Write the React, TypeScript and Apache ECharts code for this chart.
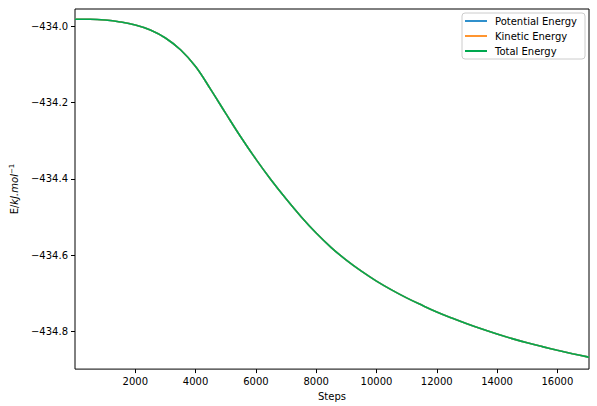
import React, { useEffect, useRef } from "react";
import * as echarts from "echarts";

const steps: number[] = [
  0, 500, 1000, 1500, 2000, 2500, 3000, 3500, 4000, 4500, 5000, 5500, 6000, 6500, 7000, 7500, 8000, 8500,
  9000, 9500, 10000, 10500, 11000, 11500, 12000, 12500, 13000, 13500, 14000, 14500, 15000, 15500, 16000,
  16500, 17000, 17050,
];
const totalEnergy: number[] = [
  -433.981, -433.981, -433.983, -433.988, -433.996, -434.009, -434.03, -434.061, -434.105, -434.165,
  -434.228, -434.29, -434.348, -434.402, -434.452, -434.499, -434.542, -434.58, -434.613, -434.642,
  -434.668, -434.691, -434.712, -434.731, -434.749, -434.765, -434.78, -434.794, -434.807, -434.819,
  -434.83, -434.84, -434.8495, -434.8585, -434.867, -434.868,
];
const potentialEnergy: number[] = totalEnergy.slice();
const kineticEnergy: number[] = totalEnergy.slice();

const seriesNames: string[] = ["Potential Energy", "Kinetic Energy", "Total Energy"];
const seriesColors: string[] = ["#3090cc", "#ff9530", "#00a84f"];
const xTicks: number[] = [2000, 4000, 6000, 8000, 10000, 12000, 14000, 16000];
const yTicks: number[] = [-434.8, -434.6, -434.4, -434.2, -434.0];

const FONT = "DejaVu Sans";

export default function App() {
  const ref = useRef<HTMLDivElement>(null);
  useEffect(() => {
    if (!ref.current) return;
    const chart = echarts.init(ref.current, undefined, { renderer: "svg" });
    const seriesData = [potentialEnergy, kineticEnergy, totalEnergy];
    chart.setOption({
      animation: false,
      backgroundColor: "#ffffff",
      textStyle: { fontFamily: FONT },
      grid: {
        left: 66,
        right: 8,
        top: 9,
        bottom: 32,
        show: true,
        borderColor: "#000",
        borderWidth: 1,
        backgroundColor: "transparent",
      },
      legend: {
        orient: "vertical",
        right: 12,
        top: 13,
        padding: [3, 8, 3, 3],
        itemGap: 5,
        itemWidth: 22,
        itemHeight: 2,
        icon: "rect",
        borderColor: "#cccccc",
        borderWidth: 1,
        borderRadius: 3,
        backgroundColor: "#fff",
        textStyle: { fontSize: 10, color: "#000", fontFamily: FONT, padding: [0, 0, 0, 3] },
        data: seriesNames,
      },
      xAxis: {
        type: "value",
        min: 0,
        max: 17050,
        name: "Steps",
        nameLocation: "middle",
        nameGap: 20,
        nameTextStyle: { fontSize: 10, color: "#000", fontFamily: FONT },
        axisLine: { show: false },
        splitLine: { show: false },
        axisTick: { show: true, length: 4, customValues: xTicks, lineStyle: { color: "#000" } },
        axisLabel: {
          customValues: xTicks,
          fontSize: 10,
          color: "#000",
          fontFamily: FONT,
          margin: 7,
          formatter: (v: number) => String(v),
        },
      },
      yAxis: {
        type: "value",
        min: -434.899,
        max: -433.954,
        name: "E/{i|kJ.mol}{s|−1}",
        nameLocation: "middle",
        nameGap: 55,
        nameRotate: 90,
        nameTextStyle: {
          fontSize: 10,
          color: "#000",
          fontFamily: FONT,
          rich: {
            i: { fontSize: 10, fontStyle: "italic", color: "#000", fontFamily: FONT },
            s: { fontSize: 7, color: "#000", fontFamily: FONT, verticalAlign: "top", padding: [0, 0, 5, 0] },
          },
        },
        axisLine: { show: false },
        splitLine: { show: false },
        axisTick: { show: true, length: 4, customValues: yTicks, lineStyle: { color: "#000" } },
        axisLabel: {
          customValues: yTicks,
          fontSize: 10,
          color: "#000",
          fontFamily: FONT,
          margin: 7,
          formatter: (v: number) => v.toFixed(1).replace("-", "\u2212"),
        },
      },
      series: seriesNames.map((name, i) => ({
        name,
        type: "line",
        data: steps.map((s, k) => [s, seriesData[i][k]]),
        showSymbol: false,
        smooth: 0.4,
        color: seriesColors[i],
        lineStyle: { width: 1.6, color: seriesColors[i] },
        z: 2 + i,
      })),
    });
    return () => chart.dispose();
  }, []);
  return (
    <div
      ref={ref}
      style={{ position: "fixed", left: 0, top: 0, width: 597, height: 406 }}
    />
  );
}
